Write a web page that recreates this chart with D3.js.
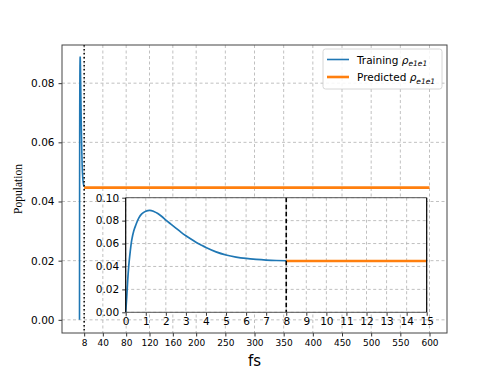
<!DOCTYPE html>
<html>
<head>
<meta charset="utf-8">
<script src="https://cdn.jsdelivr.net/npm/d3@7"></script>
<style>
  body { margin: 0; background: #fff; }
  svg text { font-family: "DejaVu Sans", sans-serif; fill: #000; }
</style>
</head>
<body>
<svg id="chart" width="498" height="374"></svg>
<script>
// training curve (fs, population)
const trainT = [0, 0.05, 0.1, 0.15, 0.2, 0.3, 0.4, 0.5, 0.65, 0.8, 1.0, 1.2, 1.4, 1.6, 1.8, 2.0,
  2.25, 2.5, 2.75, 3, 3.25, 3.5, 3.75, 4, 4.5, 5, 5.5, 6, 6.5, 7, 7.5, 8];
const trainP = [0, 0.013, 0.028, 0.040, 0.049, 0.063, 0.071, 0.076, 0.0822, 0.0858, 0.0882, 0.0890,
  0.0880, 0.0862, 0.0836, 0.0805, 0.0770, 0.0735, 0.0700, 0.0668, 0.0639, 0.0612, 0.0588, 0.0565,
  0.0527, 0.0500, 0.0482, 0.0470, 0.0462, 0.0456, 0.0452, 0.0450];

// predicted (flat)
const predT = [8, 15, 600];
const predP = [0.0447, 0.0447, 0.0447];

// tick labels
const mainXTicks = [8, 40, 80, 120, 160, 200, 250, 300, 350, 400, 450, 500, 550, 600];
const mainYTicks = [0, 0.02, 0.04, 0.06, 0.08];
const insetXTicks = d3.range(0, 16);
const insetYTicks = [0, 0.02, 0.04, 0.06, 0.08, 0.10];
const splitT = 8;

const svg = d3.select('#chart');
const train = trainT.map((t, i) => [t, trainP[i]]);
const pred = predT.map((t, i) => [t, predP[i]]);

// ── main axes ──
const x = d3.scaleLinear().domain([-30, 630]).range([62, 447]);
const y = d3.scaleLinear().domain([-0.00445, 0.0929]).range([333, 45]);

const grid = svg.append('g');
grid.selectAll('.vg').data(mainXTicks).join('line')
  .attr('x1', d => x(d)).attr('x2', d => x(d)).attr('y1', 45).attr('y2', 333)
  .attr('stroke', '#b0b0b0').attr('stroke-width', 0.8).attr('stroke-dasharray', '3,2.5');
grid.selectAll('.hg').data(mainYTicks).join('line')
  .attr('x1', 62).attr('x2', 447).attr('y1', d => y(d)).attr('y2', d => y(d))
  .attr('stroke', '#b0b0b0').attr('stroke-width', 0.8).attr('stroke-dasharray', '3,2.5');

const line = d3.line().x(d => x(d[0])).y(d => y(d[1]));
svg.append('path').attr('d', line(train)).attr('fill', 'none')
  .attr('stroke', '#1f77b4').attr('stroke-width', 1.6);
svg.append('path').attr('d', line(pred)).attr('fill', 'none')
  .attr('stroke', '#ff7f0e').attr('stroke-width', 2.6);

svg.append('line').attr('x1', x(splitT)).attr('x2', x(splitT)).attr('y1', 45).attr('y2', 333)
  .attr('stroke', '#000').attr('stroke-width', 1.5).attr('stroke-dasharray', '1.5,2.5');

// axes
const xAxis = svg.append('g').attr('transform', 'translate(0,333)')
  .call(d3.axisBottom(x).tickValues(mainXTicks).tickSize(3.5).tickPadding(3).tickFormat(d3.format('d')));
xAxis.select('.domain').remove();
xAxis.selectAll('text').style('font-size', '9px');
const yAxis = svg.append('g').attr('transform', 'translate(62,0)')
  .call(d3.axisLeft(y).tickValues(mainYTicks).tickSize(3.5).tickPadding(4).tickFormat(d3.format('.2f')));
yAxis.select('.domain').remove();
yAxis.selectAll('text').style('font-size', '10.5px');
svg.selectAll('.tick line').attr('stroke', '#333');

svg.append('rect').attr('x', 62).attr('y', 45).attr('width', 385).attr('height', 288)
  .attr('fill', 'none').attr('stroke', '#444').attr('stroke-width', 1);

svg.append('text').attr('x', x(300)).attr('y', 366).attr('text-anchor', 'middle')
  .style('font-size', '15px').text('fs');
svg.append('text').attr('transform', 'translate(22,189) rotate(-90)').attr('text-anchor', 'middle')
  .style('font-family', '"Liberation Serif", serif').style('font-size', '11.5px').text('Population');

// ── inset ──
const ix = d3.scaleLinear().domain([0, 15]).range([125.7, 426.7]);
const iy = d3.scaleLinear().domain([0, 0.1]).range([312.3, 197.7]);
const inset = svg.append('g');
inset.append('rect').attr('x', ix(0)).attr('y', iy(0.1)).attr('width', ix(15) - ix(0))
  .attr('height', iy(0) - iy(0.1)).attr('fill', '#fff');
svg.append('clipPath').attr('id', 'iclip').append('rect')
  .attr('x', ix(0)).attr('y', iy(0.1) - 2).attr('width', ix(15) - ix(0)).attr('height', iy(0) - iy(0.1) + 4);

inset.selectAll('.ivg').data(insetXTicks).join('line')
  .attr('x1', d => ix(d)).attr('x2', d => ix(d)).attr('y1', iy(0.1)).attr('y2', iy(0))
  .attr('stroke', '#b0b0b0').attr('stroke-width', 0.8).attr('stroke-dasharray', '3,2.5');
inset.selectAll('.ihg').data(insetYTicks).join('line')
  .attr('x1', ix(0)).attr('x2', ix(15)).attr('y1', d => iy(d)).attr('y2', d => iy(d))
  .attr('stroke', '#b0b0b0').attr('stroke-width', 0.8).attr('stroke-dasharray', '3,2.5');

const iline = d3.line().x(d => ix(d[0])).y(d => iy(d[1])).curve(d3.curveCatmullRom);
const plots = inset.append('g').attr('clip-path', 'url(#iclip)');
plots.append('path').attr('d', iline(train)).attr('fill', 'none')
  .attr('stroke', '#1f77b4').attr('stroke-width', 1.7);
plots.append('path').attr('d', iline(pred)).attr('fill', 'none')
  .attr('stroke', '#ff7f0e').attr('stroke-width', 2.6);
inset.append('line').attr('x1', ix(splitT)).attr('x2', ix(splitT)).attr('y1', iy(0.1)).attr('y2', iy(0))
  .attr('stroke', '#000').attr('stroke-width', 1.6).attr('stroke-dasharray', '4.5,2.5');

const ixAxis = inset.append('g').attr('transform', `translate(0,${iy(0)})`)
  .call(d3.axisBottom(ix).tickValues(insetXTicks).tickSize(3.5).tickPadding(2).tickFormat(d3.format('d')));
ixAxis.select('.domain').remove();
ixAxis.selectAll('text').style('font-size', '10.5px');
const iyAxis = inset.append('g').attr('transform', `translate(${ix(0)},0)`)
  .call(d3.axisLeft(iy).tickValues(insetYTicks).tickSize(3.5).tickPadding(3).tickFormat(d3.format('.2f')));
iyAxis.select('.domain').remove();
iyAxis.selectAll('text').style('font-size', '10.5px');
inset.selectAll('.tick line').attr('stroke', '#333');

inset.append('line').attr('x1', ix(0)).attr('x2', ix(15)).attr('y1', iy(0.1)).attr('y2', iy(0.1))
  .attr('stroke', '#555').attr('stroke-width', 1);
inset.append('line').attr('x1', ix(0)).attr('x2', ix(15)).attr('y1', iy(0)).attr('y2', iy(0))
  .attr('stroke', '#555').attr('stroke-width', 1);
inset.append('line').attr('x1', ix(0)).attr('x2', ix(0)).attr('y1', iy(0.1)).attr('y2', iy(0))
  .attr('stroke', '#000').attr('stroke-width', 1.2);
inset.append('line').attr('x1', ix(15)).attr('x2', ix(15)).attr('y1', iy(0.1)).attr('y2', iy(0))
  .attr('stroke', '#000').attr('stroke-width', 1.2);

// ── legend ──
const legend = svg.append('g').attr('transform', 'translate(323,49)');
legend.append('rect').attr('width', 119).attr('height', 40).attr('rx', 2.5)
  .attr('fill', 'rgba(255,255,255,0.85)').attr('stroke', '#ccc').attr('stroke-width', 0.8);
const items = [['Training', '#1f77b4'], ['Predicted', '#ff7f0e']];
items.forEach(([name, color], i) => {
  const row = legend.append('g').attr('transform', `translate(0,${10.5 + i * 17.5})`);
  row.append('line').attr('x1', 4).attr('x2', 26).attr('y1', 0).attr('y2', 0)
    .attr('stroke', color).attr('stroke-width', i === 0 ? 1.6 : 2.6);
  const t = row.append('text').attr('x', 34).attr('y', 4).style('font-size', '10.5px');
  t.append('tspan').text(name + ' ');
  t.append('tspan').style('font-style', 'italic').text('ρ');
  t.append('tspan').attr('dy', 2.5).style('font-style', 'italic').style('font-size', '7.5px').text('e1e1');
});
</script>
</body>
</html>
